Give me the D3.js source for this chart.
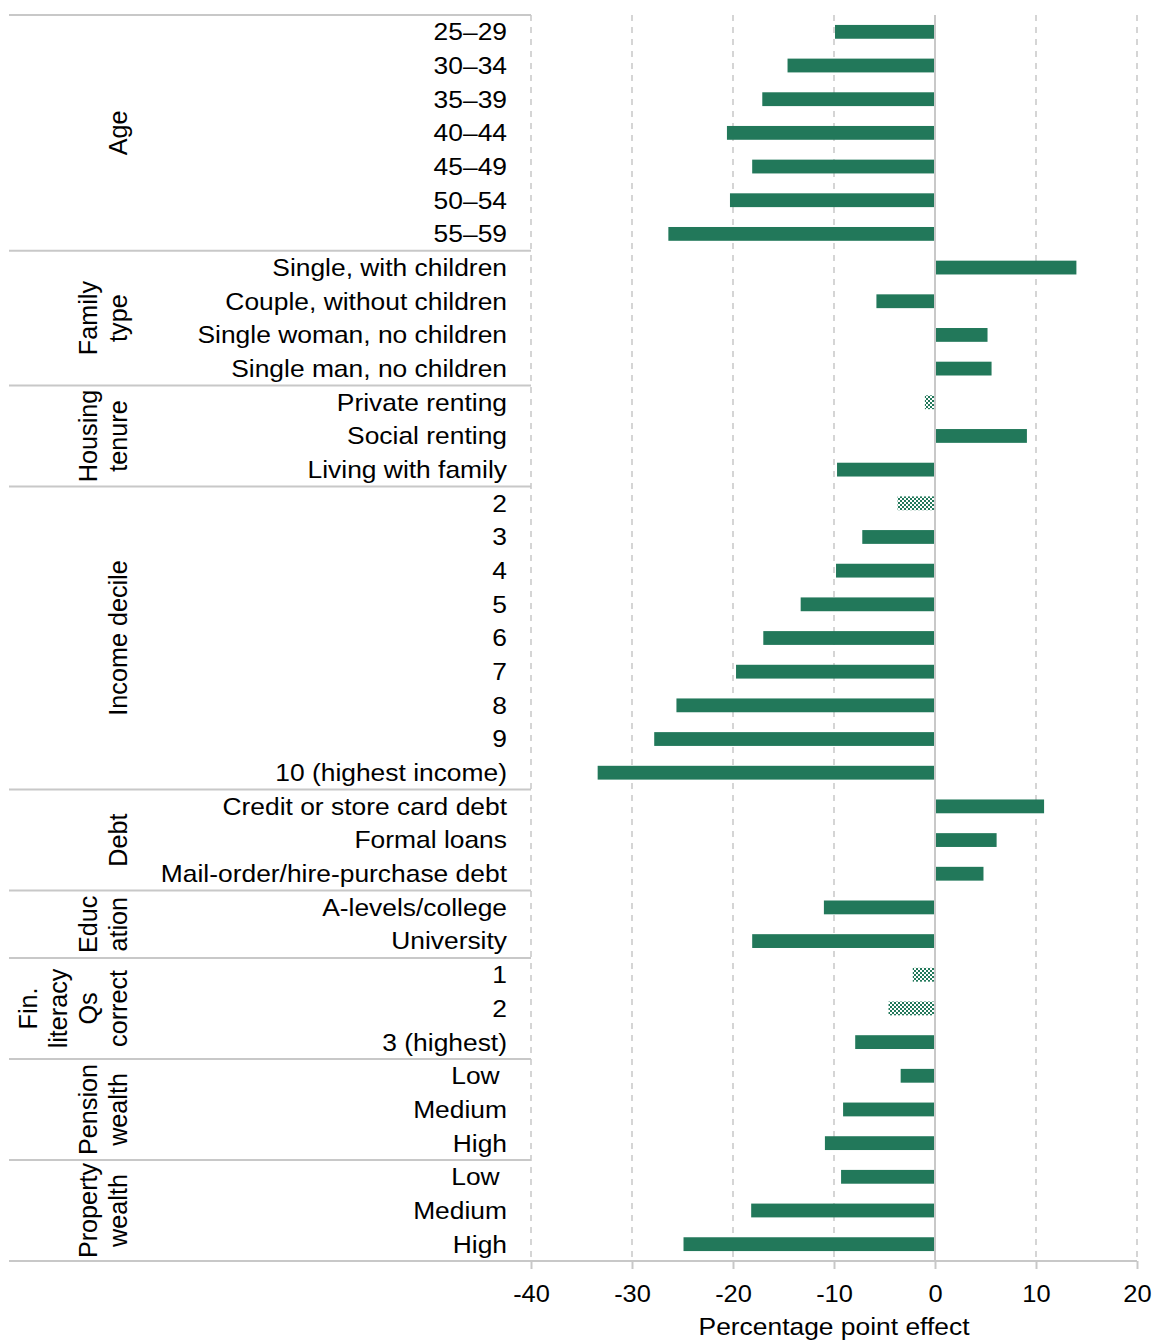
<!DOCTYPE html>
<html><head><meta charset="utf-8">
<script src="https://cdn.jsdelivr.net/npm/d3@7"></script>
<style>body{margin:0;background:#fff}svg{display:block}text{font-family:"Liberation Sans",Arial,sans-serif;fill:#000}</style>
</head><body>
<script>
const groups = ["Age","Family type","Housing tenure","Income decile","Debt","Education","Fin. literacy Qs correct","Pension wealth","Property wealth"];
const groupLines = [["Age"],["Family","type"],["Housing","tenure"],["Income decile"],["Debt"],["Educ","ation"],["Fin.","literacy","Qs","correct"],["Pension","wealth"],["Property","wealth"]];
const categories = [
 "25–29","30–34","35–39","40–44","45–49","50–54","55–59",
 "Single, with children","Couple, without children","Single woman, no children","Single man, no children",
 "Private renting","Social renting","Living with family",
 "2","3","4","5","6","7","8","9","10 (highest income)",
 "Credit or store card debt","Formal loans","Mail-order/hire-purchase debt",
 "A-levels/college","University",
 "1","2","3 (highest)",
 "Low ","Medium","High",
 "Low ","Medium","High"
];
const groupOf = [0,0,0,0,0,0,0,1,1,1,1,2,2,2,3,3,3,3,3,3,3,3,3,4,4,4,5,5,6,6,6,7,7,7,8,8,8];
const values = [-9.9,-14.6,-17.1,-20.6,-18.1,-20.3,-26.4,
 14.0,-5.8,5.2,5.6,
 -1.0,9.1,-9.7,
 -3.7,-7.2,-9.8,-13.3,-17.0,-19.7,-25.6,-27.8,-33.4,
 10.8,6.1,4.8,
 -11.0,-18.1,
 -2.2,-4.6,-7.9,
 -3.4,-9.1,-10.9,
 -9.3,-18.2,-24.9];
const insignificant = [false,false,false,false,false,false,false,
 false,false,false,false,
 true,false,false,
 true,false,false,false,false,false,false,false,false,
 false,false,false,
 false,false,
 true,true,false,
 false,false,false,
 false,false,false];
const xTicks = [-40,-30,-20,-10,0,10,20];

const W=1154,H=1340;
const svg=d3.select("body").append("svg").attr("width",W).attr("height",H);
const defs=svg.append("defs");
const pat=defs.append("pattern").attr("id","hatch").attr("width",4).attr("height",4).attr("patternUnits","userSpaceOnUse");
pat.append("rect").attr("width",4).attr("height",4).attr("fill","#ffffff");
pat.append("rect").attr("x",0).attr("y",0).attr("width",2).attr("height",2).attr("fill","#22785a");
pat.append("rect").attr("x",2).attr("y",2).attr("width",2).attr("height",2).attr("fill","#22785a");

const plotTop=15,plotBottom=1261,plotL=531,plotR=1137,leftEdge=9;
const x=d3.scaleLinear().domain([-40,20]).range([plotL,plotR]);
const y=d3.scaleBand().domain(d3.range(categories.length)).range([plotTop,plotBottom]).paddingInner(0.59).paddingOuter(0.295);
const bandStep=(plotBottom-plotTop)/categories.length;

// gridlines
svg.append("g").selectAll("line").data(xTicks.filter(d=>d!==0)).join("line")
 .attr("x1",d=>x(d)).attr("x2",d=>x(d)).attr("y1",plotTop).attr("y2",plotBottom)
 .attr("stroke","#c8c8c8").attr("stroke-width",1.5).attr("stroke-dasharray","6,6");

// bars
svg.append("g").selectAll("rect").data(values).join("rect")
 .attr("x",d=>x(Math.min(0,d))).attr("width",d=>Math.abs(x(d)-x(0)))
 .attr("y",(d,i)=>y(i)).attr("height",y.bandwidth())
 .attr("fill",(d,i)=>insignificant[i]?"url(#hatch)":"#22785a");

// zero line
svg.append("line").attr("x1",x(0)).attr("x2",x(0)).attr("y1",plotTop).attr("y2",plotBottom)
 .attr("stroke","#c8c8c8").attr("stroke-width",2);

// category labels
svg.append("g").selectAll("text").data(categories).join("text")
 .attr("transform",(d,i)=>`translate(507,${y(i)+y.bandwidth()/2}) scale(1.1,1)`).attr("dy","0.35em")
 .attr("text-anchor","end").attr("font-size",24).attr("xml:space","preserve").style("white-space","pre")
 .text(d=>d);

// group separators
const boundaries=[0];
for(let i=1;i<groupOf.length;i++) if(groupOf[i]!==groupOf[i-1]) boundaries.push(i);
svg.append("g").selectAll("line").data(boundaries).join("line")
 .attr("x1",leftEdge).attr("x2",plotL).attr("y1",d=>plotTop+d*bandStep).attr("y2",d=>plotTop+d*bandStep)
 .attr("stroke","#c8c8c8").attr("stroke-width",2);

// group labels
groups.forEach((g,gi)=>{
  const idx=d3.range(groupOf.length).filter(i=>groupOf[i]===gi);
  const cy=plotTop+(idx[0]+idx[idx.length-1]+1)/2*bandStep;
  const lines=groupLines[gi];
  lines.forEach((ln,li)=>{
    const cx=118-(lines.length-1-li)*30;
    svg.append("text").attr("transform",`translate(${cx},${cy}) rotate(-90) scale(1.05,1.05)`)
     .attr("text-anchor","middle").attr("dy","0.35em").attr("font-size",24).text(ln);
  });
});

// x axis
const ax=svg.append("g").attr("transform",`translate(0,${plotBottom})`)
 .call(d3.axisBottom(x).tickValues(xTicks).tickSize(8).tickPadding(16).tickFormat(d=>String(d)));
ax.select(".domain").remove();
ax.selectAll(".tick line").attr("stroke","#c8c8c8").attr("stroke-width",2);
ax.selectAll(".tick text").attr("font-size",24).attr("font-family","Liberation Sans, Arial, sans-serif").attr("fill","#000")
 .attr("transform","scale(1.06,1)");
svg.append("line").attr("x1",leftEdge).attr("x2",plotR).attr("y1",plotBottom).attr("y2",plotBottom)
 .attr("stroke","#c8c8c8").attr("stroke-width",2);

svg.append("text").attr("transform",`translate(${(plotL+plotR)/2},1335) scale(1.1,1)`).attr("text-anchor","middle")
 .attr("font-size",24).text("Percentage point effect");
</script>
</body></html>
